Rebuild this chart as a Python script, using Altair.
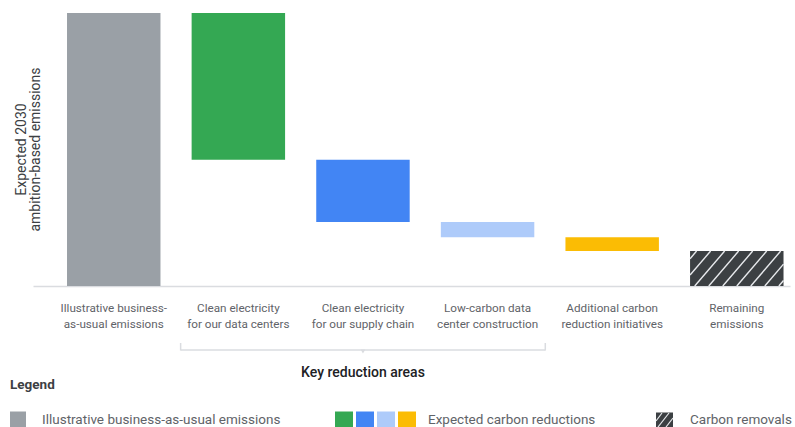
import altair as alt
import pandas as pd

# ---------------- data ----------------
categories = [
    "Illustrative business-|as-usual emissions",
    "Clean electricity|for our data centers",
    "Clean electricity|for our supply chain",
    "Low-carbon data|center construction",
    "Additional carbon|reduction initiatives",
    "Remaining|emissions",
]
business_as_usual = 100.0
reductions = [53.8, 22.8, 5.5, 5.1]
remaining = 12.8
colors = ["#9aa0a6", "#34a853", "#4285f4", "#aecbfa", "#fbbc04", "#3c4043"]
legend_labels = [
    "Illustrative business-as-usual emissions",
    "Expected carbon reductions",
    "Carbon removals",
]
y_title = ["Expected 2030", "ambition-based emissions"]
bracket_label = "Key reduction areas"
legend_title = "Legend"

# waterfall starts / ends
starts, ends = [0.0], [business_as_usual]
level = business_as_usual
for r in reductions:
    starts.append(level - r)
    ends.append(level)
    level -= r
starts.append(0.0)
ends.append(remaining)

df = pd.DataFrame({"category": categories, "start": starts, "end": ends, "color": colors})

FONT = "Roboto"
GRID = "#dadce0"
LABEL = "#5f6368"
DARK = "#3c4043"

x_scale = alt.Scale(domain=categories, paddingInner=0.25, paddingOuter=0.1625, align=0.84)
y_scale = alt.Scale(domain=[0, 100], nice=False, zero=True)

bars = alt.Chart(df).mark_bar().encode(
    x=alt.X(
        "category:N",
        scale=x_scale,
        axis=alt.Axis(
            title=None,
            labelExpr="split(datum.label, '|')",
            ticks=False,
            domainColor=GRID,
            domainWidth=1.5,
            labelPadding=16,
            labelFontSize=11.7,
            labelColor=LABEL,
            labelLineHeight=16,
            labelBaseline="top",
            labelFont=FONT,
            labelAngle=0,
            labelLimit=300,
        ),
    ),
    y=alt.Y(
        "start:Q",
        scale=y_scale,
        axis=alt.Axis(
            title=y_title,
            labels=False,
            ticks=False,
            domain=False,
            grid=False,
            titleX=-8,
            titleY=136,
            titleAngle=-90,
            titleAlign="center",
            titleBaseline="alphabetic",
            titleFontSize=14,
            titleFontWeight="normal",
            titleColor=DARK,
            titleLineHeight=14,
            titleFont=FONT,
        ),
    ),
    y2="end:Q",
    color=alt.Color("color:N", scale=None),
)

layers = [bars]

# hatch lines inside the "Remaining emissions" bar
hatch_df = pd.DataFrame({"category": [categories[-1]]})
H = remaining
dx, gap = 0.32, 0.15
for k in range(10):
    x0 = -0.25 + gap * k
    x1 = x0 + dx
    if x1 <= 0 or x0 >= 1:
        continue
    ya, yb, bx0, bx1 = 0.0, H, x0, x1
    if x0 < 0:
        bx0 = 0.0
        ya = H * (-x0 / dx)
    if x1 > 1:
        bx1 = 1.0
        yb = H * (1 - x0) / dx
    layers.append(
        alt.Chart(hatch_df).mark_rule(color="#e8eaed", strokeWidth=1.4).encode(
            x=alt.X("category:N", bandPosition=bx0, title=None),
            x2=alt.X2("category:N", bandPosition=bx1),
            y=alt.datum(ya),
            y2=alt.datum(yb),
        )
    )

# bracket under the key reduction areas
bracket_df = pd.DataFrame(
    {"left": [categories[1]], "mid": [categories[2]], "right": [categories[3]], "txt": [bracket_label]}
)
layers.append(
    alt.Chart(bracket_df).mark_rule(color=GRID, strokeWidth=1.5, xOffset=-11, x2Offset=11).encode(
        x=alt.X("left:N", bandPosition=0, title=None),
        x2=alt.X2("right:N", bandPosition=1),
        y=alt.value(337),
    )
)
layers.append(
    alt.Chart(bracket_df).mark_rule(color=GRID, strokeWidth=1.5, xOffset=-11).encode(
        x=alt.X("left:N", bandPosition=0, title=None), y=alt.value(330), y2=alt.value(337.5)
    )
)
layers.append(
    alt.Chart(bracket_df).mark_rule(color=GRID, strokeWidth=1.5, xOffset=11).encode(
        x=alt.X("right:N", bandPosition=1, title=None), y=alt.value(330), y2=alt.value(337.5)
    )
)
layers.append(
    alt.Chart(bracket_df).mark_point(shape="triangle-down", filled=True, size=22, color=GRID, opacity=1).encode(
        x=alt.X("mid:N", bandPosition=0.5, title=None), y=alt.value(338.5)
    )
)
layers.append(
    alt.Chart(bracket_df).mark_text(
        font=FONT, fontSize=14, fontWeight=500, color="#202124", baseline="middle", align="center"
    ).encode(x=alt.X("mid:N", bandPosition=0.5, title=None), y=alt.value(360), text="txt:N")
)

# ---------------- legend (annotation) ----------------
one = pd.DataFrame({"t": [legend_title]})
layers.append(
    alt.Chart(one).mark_text(font=FONT, fontSize=13.5, fontWeight="bold", color=DARK, align="left", baseline="middle")
    .encode(x=alt.value(-23), y=alt.value(372), text="t:N")
)
# business as usual swatch
layers.append(
    alt.Chart(one).mark_rect(color=colors[0]).encode(
        x=alt.value(-23), x2=alt.value(-7), y=alt.value(398.5), y2=alt.value(414)
    )
)
# reduction swatches
for i, c in enumerate(colors[1:5]):
    layers.append(
        alt.Chart(one).mark_rect(color=c).encode(
            x=alt.value(302 + 21 * i), x2=alt.value(320 + 21 * i), y=alt.value(398.5), y2=alt.value(414)
        )
    )
# removals swatch (hatched)
layers.append(
    alt.Chart(one).mark_rect(color=colors[5]).encode(
        x=alt.value(623), x2=alt.value(640), y=alt.value(399.5), y2=alt.value(414)
    )
)
for (ax, ay, bx, by) in [(623, 408, 629, 400), (625, 414, 636, 400), (633, 414, 640, 405)]:
    layers.append(
        alt.Chart(one).mark_rule(color="#e8eaed", strokeWidth=1.2).encode(
            x=alt.value(ax), y=alt.value(ay), x2=alt.value(bx), y2=alt.value(by)
        )
    )
for lbl, xp in zip(legend_labels, [9, 395, 657]):
    layers.append(
        alt.Chart(pd.DataFrame({"label": [lbl]})).mark_text(
            font=FONT, fontSize=13.5, color=LABEL, align="left", baseline="middle"
        ).encode(x=alt.value(xp), y=alt.value(406.5), text="label:N")
    )

chart = (
    alt.layer(*layers)
    .properties(
        width=757,
        height=273,
        padding={"left": 33, "top": 13, "right": 5, "bottom": 141},
        autosize=alt.AutoSizeParams(type="none"),
        background="white",
    )
    .configure(font=FONT)
    .configure_view(strokeWidth=0, stroke="transparent")
)

chart.save("out.html", embed_options={"renderer": "svg", "actions": False})
